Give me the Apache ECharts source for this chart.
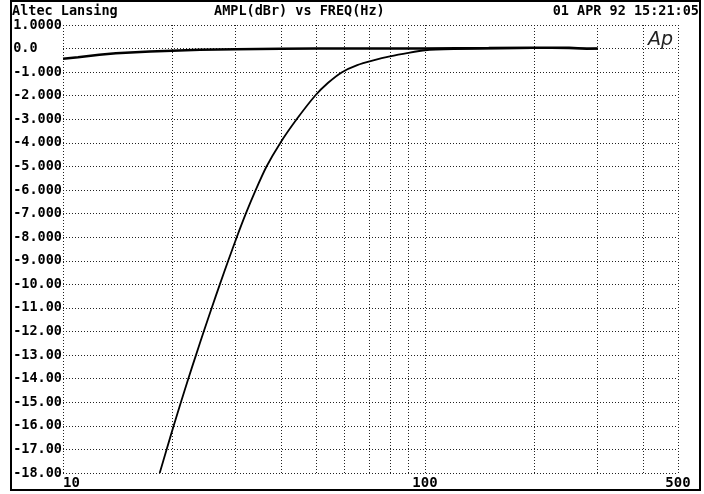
<!DOCTYPE html>
<html>
<head>
<meta charset="utf-8">
<script src="https://cdn.jsdelivr.net/npm/echarts@6/dist/echarts.min.js"></script>
<style>
  html, body { margin: 0; padding: 0; background: #fff; }
  #chart { width: 704px; height: 494px; }
</style>
</head>
<body>
<div id="chart"></div>
<script>
// flat reference response (dBr vs Hz)
var freqFlat = [10, 11, 12.6, 14, 17.4, 20, 23.9, 30, 40, 50, 70, 100, 150, 200, 250, 280, 300];
var levelFlat = [-0.43, -0.37, -0.26, -0.2, -0.12, -0.09, -0.05, -0.03, -0.01, 0, 0, 0, 0.02, 0.04, 0.03, -0.01, 0];

// high-pass response
var freqHp = [18.5, 19.33, 20.22, 21.17, 22.19, 23.3, 24.48, 25.75, 27.12, 28.6, 30.2, 31.99, 34.06, 36.5,
  39.84, 44.2, 49.7, 54, 59, 65, 72, 80, 90, 100, 120, 150, 200, 250, 300];
var levelHp = [-18, -17, -16, -15, -14, -13, -12, -11, -10, -9, -8, -7, -6, -5,
  -4, -3, -2, -1.45, -1, -0.7, -0.5, -0.33, -0.18, -0.07, -0.02, 0, 0.02, 0.01, 0];

var xGridValues = [10, 20, 30, 40, 50, 60, 70, 80, 90, 100, 200, 300, 400, 500];
var xLabelValues = [10, 100, 500];
var yTickLabels = ['1.0000', '0.0   ', '-1.000', '-2.000', '-3.000', '-4.000', '-5.000', '-6.000',
  '-7.000', '-8.000', '-9.000', '-10.00', '-11.00', '-12.00', '-13.00', '-14.00', '-15.00',
  '-16.00', '-17.00', '-18.00'];

var mono = '"DejaVu Sans Mono", "Liberation Mono", monospace';
var gridLine = { color: '#222', width: 1, type: [1, 2] };

function pairs(xs, ys) {
  return xs.map(function(x, i) { return [x, ys[i]]; });
}

var chart = echarts.init(document.getElementById('chart'), null, { renderer: 'canvas' });

var option = {
  animation: false,
  backgroundColor: '#fff',
  grid: { left: 63, right: 26, top: 25, bottom: 21 },
  xAxis: {
    type: 'log',
    logBase: 10,
    min: 10,
    max: 500,
    axisLine: { show: false },
    axisTick: { show: false, customValues: xGridValues },
    splitLine: { show: true, lineStyle: gridLine },
    axisLabel: {
      customValues: xLabelValues,
      alignMinLabel: 'left',
      margin: 3,
      color: '#000',
      fontFamily: mono,
      fontWeight: 'bold',
      fontSize: 14,
      formatter: function(v) { return String(Math.round(v)); }
    }
  },
  yAxis: {
    type: 'value',
    min: -18,
    max: 1,
    interval: 1,
    axisLine: { show: false },
    axisTick: { show: false },
    splitLine: { show: true, lineStyle: gridLine },
    axisLabel: {
      margin: 1,
      color: '#000',
      fontFamily: mono,
      fontWeight: 'bold',
      fontSize: 13.5,
      formatter: function(v) { return yTickLabels[1 - Math.round(v)]; }
    }
  },
  series: [
    {
      type: 'line',
      data: pairs(freqFlat, levelFlat),
      showSymbol: false,
      lineStyle: { color: '#000', width: 2.5 }
    },
    {
      type: 'line',
      data: pairs(freqHp, levelHp),
      showSymbol: false,
      smooth: 0.2,
      lineStyle: { color: '#000', width: 1.8 }
    }
  ],
  graphic: [
    { type: 'rect', shape: { x: 11, y: 1, width: 689, height: 489 },
      style: { fill: 'none', stroke: '#000', lineWidth: 2 } },
    { type: 'text', left: 12, top: 4,
      style: { text: 'Altec Lansing', font: 'bold 13.5px ' + mono, fill: '#000' } },
    { type: 'text', left: 214, top: 4,
      style: { text: 'AMPL(dBr) vs FREQ(Hz)', font: 'bold 13.5px ' + mono, fill: '#000' } },
    { type: 'text', right: 5, top: 4,
      style: { text: '01 APR 92 15:21:05', font: 'bold 13.5px ' + mono, fill: '#000' } },
    { type: 'text', left: 648, top: 31,
      style: { text: 'Ap', font: 'italic 19px "DejaVu Sans", sans-serif', fill: '#222' } }
  ]
};

chart.setOption(option);
</script>
</body>
</html>
